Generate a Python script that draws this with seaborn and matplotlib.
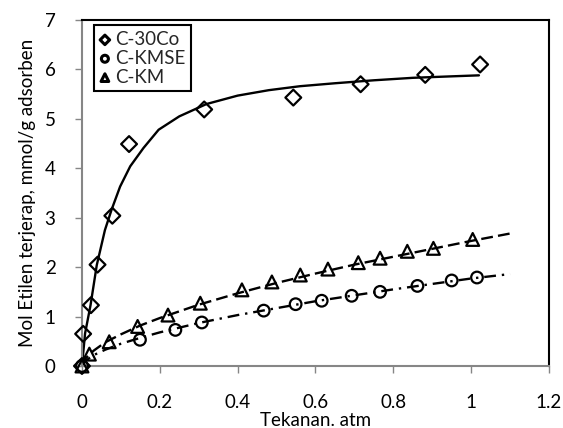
import matplotlib
matplotlib.use("Agg")
import matplotlib.pyplot as plt
import pandas as pd
import seaborn as sns

# measured adsorption points (pressure atm, mmol/g)
p_30co = [0.0, 0.003, 0.023, 0.040, 0.078, 0.121, 0.314, 0.543, 0.716, 0.882, 1.023]
q_30co = [0.0, 0.65, 1.23, 2.05, 3.04, 4.49, 5.19, 5.43, 5.70, 5.89, 6.10]

p_kmse = [0.0, 0.149, 0.240, 0.308, 0.467, 0.549, 0.616, 0.693, 0.766, 0.862, 0.950, 1.015]
q_kmse = [0.0, 0.53, 0.73, 0.88, 1.12, 1.25, 1.32, 1.42, 1.50, 1.62, 1.73, 1.79]

p_km = [0.0, 0.019, 0.070, 0.143, 0.221, 0.304, 0.411, 0.488, 0.561, 0.632, 0.710, 0.766, 0.836, 0.903, 1.004]
q_km = [0.0, 0.24, 0.49, 0.80, 1.03, 1.27, 1.54, 1.70, 1.84, 1.96, 2.09, 2.18, 2.32, 2.38, 2.56]

# fitted curves
fit_p_30co = [0.0, 0.008, 0.022, 0.038, 0.059, 0.076, 0.098, 0.124, 0.158, 0.197, 0.25,
              0.32, 0.40, 0.48, 0.56, 0.65, 0.75, 0.85, 0.95, 1.02]
fit_q_30co = [0.0, 0.66, 1.23, 2.04, 2.75, 3.16, 3.63, 4.04, 4.41, 4.78, 5.05,
              5.30, 5.47, 5.58, 5.66, 5.72, 5.78, 5.83, 5.86, 5.88]

fit_p_km = [0.0, 0.01, 0.03, 0.06, 0.10, 0.15, 0.20, 0.30, 0.40, 0.50, 0.60, 0.70,
            0.80, 0.90, 1.00, 1.10]
fit_q_km = [0.0, 0.16, 0.31, 0.48, 0.64, 0.82, 0.97, 1.24, 1.47, 1.68, 1.87, 2.05,
            2.21, 2.37, 2.53, 2.68]

fit_p_kmse = [0.0, 0.01, 0.03, 0.06, 0.10, 0.15, 0.20, 0.30, 0.40, 0.50, 0.60, 0.70,
              0.80, 0.90, 1.00, 1.10]
fit_q_kmse = [0.0, 0.11, 0.22, 0.33, 0.45, 0.57, 0.68, 0.87, 1.03, 1.17, 1.31, 1.43,
              1.55, 1.66, 1.77, 1.86]

AXIS_GREY = "#868686"
FS = 13.5

sns.set_theme(style="white")
plt.rcParams["font.family"] = ["Lato", "DejaVu Sans"]

fig = plt.figure(figsize=(5.63, 4.28), dpi=100)
ax = fig.add_axes([0.1456, 0.1449, 0.8295, 0.8084])

# fit lines
sns.lineplot(x=fit_p_30co, y=fit_q_30co, ax=ax, color="black", linewidth=1.7,
             linestyle="-", label="_nolegend_", sort=False)
sns.lineplot(x=fit_p_km, y=fit_q_km, ax=ax, color="black", linewidth=1.7,
             label="_nolegend_", sort=False)
ax.lines[-1].set_dashes([5, 2.2])
sns.lineplot(x=fit_p_kmse, y=fit_q_kmse, ax=ax, color="black", linewidth=1.7,
             label="_nolegend_", sort=False)
ax.lines[-1].set_dashes([5, 2.5, 1, 2.5])

# measured points
series = [
    ("C-30Co", p_30co, q_30co, "D", 65),
    ("C-KMSE", p_kmse, q_kmse, "o", 70),
    ("C-KM", p_km, q_km, "^", 85),
]
for name, px, qy, mk, sz in series:
    sns.scatterplot(x=px, y=qy, ax=ax, marker=mk, s=sz, facecolor="none",
                    edgecolor="black", linewidth=1.6, label=name, clip_on=False, zorder=3)

ax.set_xlim(0, 1.2)
ax.set_ylim(0, 7)
ax.set_xticks([0, 0.2, 0.4, 0.6, 0.8, 1.0, 1.2])
ax.set_xticklabels(["0", "0.2", "0.4", "0.6", "0.8", "1", "1.2"])
ax.set_yticks(range(0, 8))

for side in ["left", "bottom"]:
    ax.spines[side].set_color(AXIS_GREY)
    ax.spines[side].set_linewidth(1.5)
for side in ["top", "right"]:
    ax.spines[side].set_color("black")
    ax.spines[side].set_linewidth(1.5)
    ax.spines[side].set_visible(True)

ax.tick_params(axis="x", direction="out", length=5, width=1, color=AXIS_GREY,
               pad=15, labelsize=FS, labelcolor="black", bottom=True)
ax.tick_params(axis="y", direction="out", length=5, width=1, color=AXIS_GREY,
               pad=14, labelsize=FS, labelcolor="black", left=True)

ax.set_xlabel("Tekanan. atm", fontsize=FS, labelpad=1, color="black")
ax.set_ylabel("Mol Etilen terjerap, mmol/g adsorben", fontsize=FS, labelpad=6, color="black")

leg = ax.legend(loc="upper left", bbox_to_anchor=(0.025, 0.985), fontsize=FS,
                frameon=True, fancybox=False, edgecolor="black", framealpha=1,
                markerscale=0.6, handlelength=0.6, handletextpad=0.25,
                labelspacing=0.1, borderpad=0.3, borderaxespad=0)
leg.get_frame().set_linewidth(1.5)
for h in leg.legend_handles:
    h.set_linewidth(2.2)

fig.savefig("out.png", dpi=100)
